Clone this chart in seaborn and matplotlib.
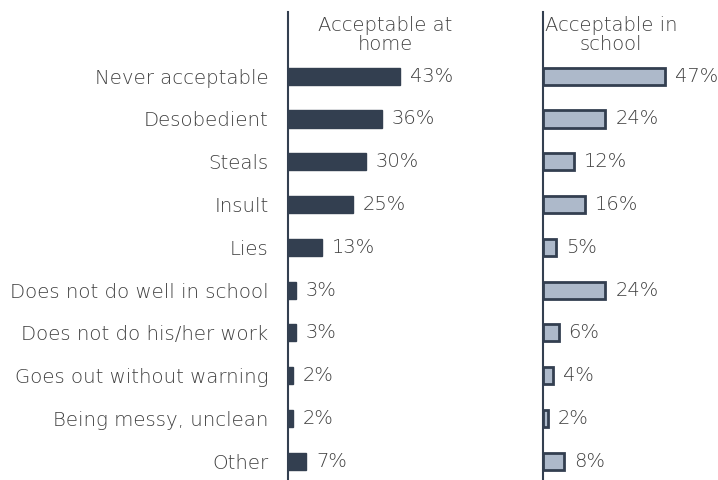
import matplotlib
matplotlib.use("Agg")
import matplotlib.pyplot as plt
import seaborn as sns
import pandas as pd

categories = ["Never acceptable", "Desobedient", "Steals", "Insult", "Lies",
              "Does not do well in school", "Does not do his/her work",
              "Goes out without warning", "Being messy, unclean", "Other"]
home = [43, 36, 30, 25, 13, 3, 3, 2, 2, 7]
school = [47, 24, 12, 16, 5, 24, 6, 4, 2, 8]
titles = ["Acceptable at\nhome", "Acceptable in\nschool"]

sns.set_theme(style="white")
plt.rcParams['font.family'] = ['DejaVu Sans']

W, H = 718, 480
fig = plt.figure(figsize=(W / 100, H / 100), dpi=100)
text_col = "#404040"
dark = "#333F50"
light = "#ADB9CA"
pxper = 2.6

def make_ax(x0, width):
    return fig.add_axes([x0 / W, 0, width / W, (480 - 12) / H])

ax1 = make_ax(288, 230)
ax2 = make_ax(543, 170)

df1 = pd.DataFrame({"cat": categories, "val": home})
df2 = pd.DataFrame({"cat": categories, "val": school})

sns.barplot(data=df1, y="cat", x="val", ax=ax1, color=dark, width=0.4,
            saturation=1, edgecolor=dark, linewidth=1)
sns.barplot(data=df2, y="cat", x="val", ax=ax2, color=light, width=0.4,
            saturation=1, edgecolor=dark, linewidth=2)

for ax, vals, title, w, tc in [(ax1, home, titles[0], 230, 97),
                               (ax2, school, titles[1], 170, 68)]:
    ax.set_xlim(0, w / pxper)
    ax.set_ylim(9.44, -1.5)
    ax.set_xlabel("")
    ax.set_ylabel("")
    ax.set_xticks([])
    for s in ["top", "right", "bottom"]:
        ax.spines[s].set_visible(False)
    ax.spines["left"].set_color(dark)
    ax.spines["left"].set_linewidth(1.5)
    for i, v in enumerate(vals):
        ax.text(v + 3.8, i, f"{v}%", va="center", ha="left", fontsize=14,
                color=text_col, fontweight="light")
    ax.text(tc / pxper, -0.97, title, ha="center", va="center",
            fontsize=14, color=text_col, linespacing=1.0, fontweight="light")

ax1.tick_params(axis="y", length=0, pad=14, labelsize=14.2, labelcolor=text_col)
for lab in ax1.get_yticklabels():
    lab.set_fontweight("light")
ax2.set_yticks([])

fig.savefig("out.png", dpi=100)
